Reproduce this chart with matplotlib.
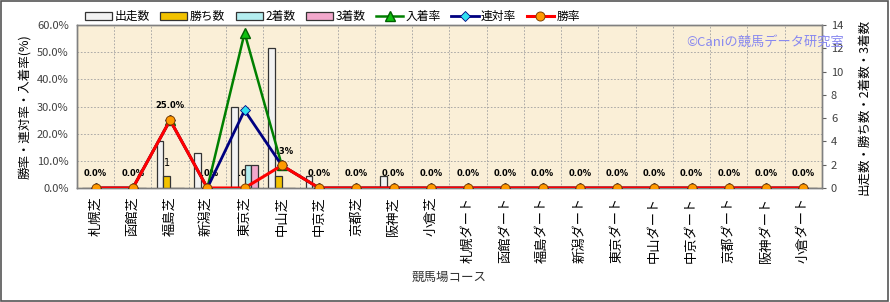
import numpy as np
import matplotlib
matplotlib.use("Agg")
import matplotlib.pyplot as plt
from matplotlib.lines import Line2D
from matplotlib.patches import Rectangle
from matplotlib.transforms import blended_transform_factory

plt.rcParams['font.family'] = ['Noto Sans CJK JP', 'DejaVu Sans']

# ---------------------------------------------------------------------------
# Data
# ---------------------------------------------------------------------------
courses = ["札幌芝", "函館芝", "福島芝", "新潟芝", "東京芝", "中山芝", "中京芝",
           "京都芝", "阪神芝", "小倉芝",
           "札幌ダート", "函館ダート", "福島ダート", "新潟ダート", "東京ダート",
           "中山ダート", "中京ダート", "京都ダート", "阪神ダート", "小倉ダート"]

starts  = [0, 0, 4, 3, 7, 12, 1, 0, 1, 0, 0, 0, 0, 0, 0, 0, 0, 0, 0, 0]
wins    = [0, 0, 1, 0, 0, 1, 0, 0, 0, 0, 0, 0, 0, 0, 0, 0, 0, 0, 0, 0]
seconds = [0, 0, 0, 0, 2, 0, 0, 0, 0, 0, 0, 0, 0, 0, 0, 0, 0, 0, 0, 0]
thirds  = [0, 0, 0, 0, 2, 0, 0, 0, 0, 0, 0, 0, 0, 0, 0, 0, 0, 0, 0, 0]

place_rate  = [0, 0, 25.0, 0, 57.1, 8.3, 0, 0, 0, 0, 0, 0, 0, 0, 0, 0, 0, 0, 0, 0]
rentai_rate = [0, 0, 25.0, 0, 28.6, 8.3, 0, 0, 0, 0, 0, 0, 0, 0, 0, 0, 0, 0, 0, 0]
win_rate    = [0, 0, 25.0, 0, 0.0, 8.3, 0, 0, 0, 0, 0, 0, 0, 0, 0, 0, 0, 0, 0, 0]

pct_ticks   = [0, 10, 20, 30, 40, 50, 60]
count_ticks = [0, 2, 4, 6, 8, 10, 12, 14]

# ---------------------------------------------------------------------------
# Figure
# ---------------------------------------------------------------------------
fig = plt.figure(figsize=(8.9, 3.02), dpi=100)
fig.patches.append(Rectangle((0.001, 0.002), 0.997, 0.995, transform=fig.transFigure,
                             fill=False, edgecolor="#555555", linewidth=1.2))

ax = fig.add_axes([0.0865, 0.3775, 0.837, 0.5395])   # counts (bars), right scale
ax2 = ax.twinx()                                      # rates (lines), left scale

ax.set_facecolor("#FAEFD7")
x = np.arange(len(courses))
n = len(courses)

bar_w = 0.18
bar_specs = [
    (starts,  "出走数", "#F2F2F2"),
    (wins,    "勝ち数", "#F2C200"),
    (seconds, "2着数", "#B4EEF0"),
    (thirds,  "3着数", "#F2A8CC"),
]
bar_handles = []
for k, (vals, lab, col) in enumerate(bar_specs):
    b = ax.bar(x + (k - 1.5) * bar_w, vals, width=bar_w, color=col,
               edgecolor="#333333", linewidth=0.9, label=lab, zorder=3)
    bar_handles.append(b)

ax.set_xlim(-0.5, n - 0.5)
ax.set_ylim(0, 14)
ax2.set_ylim(0, 60)

# grid: horizontal at % levels, vertical at category boundaries
blend = blended_transform_factory(ax.transAxes, ax2.transData)
for p in pct_ticks[1:-1]:
    ax.add_line(Line2D([0, 1], [p, p], transform=blend, color="#A0A0A0",
                       linestyle=(0, (2, 2)), linewidth=0.6, zorder=1))
for b in np.arange(0.5, n - 0.5, 1.0):
    ax.axvline(b, color="#A0A0A0", linestyle=(0, (2, 2)), linewidth=0.6, zorder=1)

# data labels for win rate (sit under the bars)
for i, v in enumerate(win_rate):
    ax.annotate(f"{v:.1f}%", xy=(i, v), xycoords=ax2.transData,
                xytext=(0, 7), textcoords="offset points", ha="center", va="bottom",
                fontsize=6, fontweight="bold", family="DejaVu Sans", zorder=2)
ax.annotate(f"{wins[2]}", xy=(2 - 0.5 * bar_w, wins[2]), xytext=(0, 6),
            textcoords="offset points", ha="center", va="bottom",
            fontsize=7, family="DejaVu Sans", zorder=2)

# rate lines
l1, = ax2.plot(x, place_rate, color="#008000", linewidth=1.8, marker="^",
               markersize=7, markerfacecolor="#10C010", markeredgecolor="#006000",
               label="入着率", zorder=4)
l2, = ax2.plot(x, rentai_rate, color="#000080", linewidth=2.0, marker="D",
               markersize=5.5, markerfacecolor="#30E0F0", markeredgecolor="#000080",
               markeredgewidth=0.6, label="連対率", zorder=5)
l3, = ax2.plot(x, win_rate, color="#FF0000", linewidth=2.2, marker="o",
               markersize=6.5, markerfacecolor="#FF9A00", markeredgecolor="#804000",
               markeredgewidth=0.7, label="勝率", zorder=6)

# axes styling
ax.yaxis.tick_right()
ax.yaxis.set_label_position("right")
ax.set_yticks(count_ticks)
ax.tick_params(axis="y", length=3, labelsize=8, labelcolor="#404040", color="#606060")
ax2.yaxis.tick_left()
ax2.yaxis.set_label_position("left")
ax2.set_yticks(pct_ticks)
ax2.set_yticklabels([f"{p:.1f}%" for p in pct_ticks])
ax2.tick_params(axis="y", length=0, pad=6, labelsize=8, labelcolor="#404040")

ax.set_xticks(x)
ax.set_xticklabels(courses, rotation=90, fontsize=9.5)
ax.tick_params(axis="x", length=0, pad=6)

for s in list(ax.spines.values()) + list(ax2.spines.values()):
    s.set_color("#808080")
    s.set_linewidth(1.0)

ax2.set_ylabel("勝率・連対率・入着率(%)", fontsize=9, labelpad=4)
ax.set_ylabel("出走数・勝ち数・2着数・3着数", fontsize=9, labelpad=10)
fig.text(0.505, 0.083, "競馬場コース", ha="center", va="center", fontsize=9,
         color="#333333")

fig.text(0.86, 0.861, "©Caniの競馬データ研究室", ha="center", va="center",
         fontsize=9.5, color="#8888F0", zorder=10)

handles = bar_handles + [l1, l2, l3]
labels = [h.get_label() for h in handles]
fig.legend(handles, labels, loc="center left", bbox_to_anchor=(0.09, 0.945),
           ncol=7, frameon=False, fontsize=8.5, handlelength=2.3,
           handleheight=0.6, handletextpad=0.2, columnspacing=0.9,
           borderaxespad=0)

plt.savefig("out.png", dpi=100)
